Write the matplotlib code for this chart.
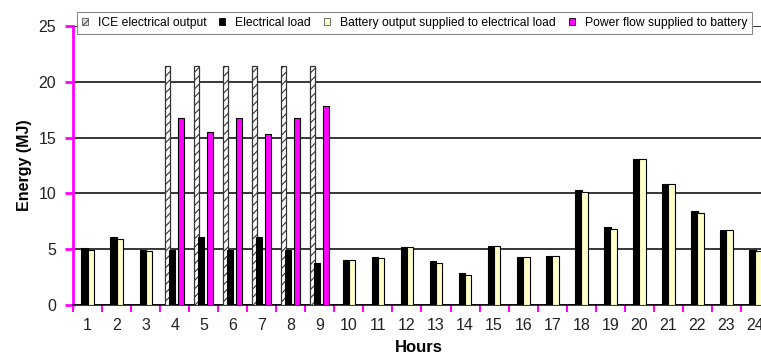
import numpy as np
import matplotlib.pyplot as plt
from matplotlib.patches import Patch

plt.rcParams['font.family'] = ['Liberation Sans', 'DejaVu Sans']
plt.rcParams['hatch.linewidth'] = 0.8

hours = [str(h) for h in range(1, 25)]
# electrical load for every hour
load = [5.1, 6.1, 4.9, 4.9, 6.1, 4.9, 6.1, 4.9, 3.8, 4.0, 4.3, 5.2,
        3.9, 2.9, 5.3, 4.3, 4.4, 10.3, 7.0, 13.1, 10.8, 8.4, 6.7, 4.9]
# battery output supplied to the load (0 while the ICE runs)
battery = [4.9, 5.9, 4.8, 0, 0, 0, 0, 0, 0, 4.0, 4.2, 5.2,
           3.8, 2.7, 5.3, 4.3, 4.4, 10.1, 6.8, 13.1, 10.8, 8.2, 6.7, 4.8]
# ICE electrical output, hours 4-9 only
ice = [0, 0, 0, 21.45, 21.45, 21.45, 21.45, 21.45, 21.45, 0, 0, 0,
       0, 0, 0, 0, 0, 0, 0, 0, 0, 0, 0, 0]
# power flow supplied to the battery, hours 4-9 only
charge = [0, 0, 0, 16.8, 15.5, 16.8, 15.3, 16.8, 17.8, 0, 0, 0,
          0, 0, 0, 0, 0, 0, 0, 0, 0, 0, 0, 0]

labels = ['ICE electrical output', 'Electrical load',
          'Battery output supplied to electrical load',
          'Power flow supplied to battery']

cream = '#FFFFC8'
magenta = '#FF00FF'

fig = plt.figure(figsize=(7.61, 3.6), dpi=100)
ax = fig.add_axes([73/761, 1 - 305/360, 697/761, 279/360])

x = np.arange(len(hours))
ice = np.array(ice)
charge = np.array(charge)
battery = np.array(battery)
on = ice > 0
bat_on = battery > 0

ax.bar(x[on] - 0.24, ice[on], width=0.17, color='white', edgecolor='#333333',
       hatch='////', linewidth=0.9, zorder=3)
ax.bar(x - 0.10, load, width=0.22, color='black', edgecolor='black',
       linewidth=0.8, zorder=3)
ax.bar(x[bat_on] + 0.11, battery[bat_on], width=0.22, color=cream,
       edgecolor='black', linewidth=0.8, zorder=4)
ax.bar(x[on] + 0.22, charge[on], width=0.2, color=magenta, edgecolor='black',
       linewidth=0.8, zorder=3)

ax.set_xlim(-0.5, len(hours) - 0.5)
ax.set_ylim(0, 25)
ax.set_yticks(range(0, 26, 5))
ax.yaxis.grid(True, color='black', linewidth=1.1)
ax.set_axisbelow(True)

ax.set_xticks(x)
ax.set_xticklabels(hours)
ax.set_xticks(np.arange(len(hours) + 1) - 0.5, minor=True)
ax.tick_params(axis='x', which='major', length=0, pad=9, labelsize=11.5,
               labelcolor='#222222')
ax.tick_params(axis='x', which='minor', length=5, width=1.5, color=magenta,
               direction='out')
ax.tick_params(axis='y', length=6, width=2, color=magenta, pad=6,
               labelsize=11.5, labelcolor='#222222')

for s in ['top', 'right']:
    ax.spines[s].set_visible(False)
ax.spines['left'].set_color(magenta)
ax.spines['left'].set_linewidth(2)
ax.spines['bottom'].set_color('black')
ax.spines['bottom'].set_linewidth(1.1)

ax.set_ylabel('Energy (MJ)', fontsize=11.5, fontweight='bold', labelpad=5)
ax.set_xlabel('Hours', fontsize=12, fontweight='bold')
ax.xaxis.set_label_coords((419 - 73) / 697, -0.125)

handles = [
    Patch(facecolor='#dddddd', edgecolor='#555555', hatch='////', linewidth=0.6),
    Patch(facecolor='black', edgecolor='black', linewidth=0.6),
    Patch(facecolor=cream, edgecolor='#555555', linewidth=0.6),
    Patch(facecolor=magenta, edgecolor='black', linewidth=0.6),
]
leg = fig.legend(handles, labels, ncol=4, loc='upper left',
                 bbox_to_anchor=(77/761, 1 - 12/360), fontsize=8.7,
                 handlelength=0.5, handleheight=0.5, handletextpad=0.8,
                 columnspacing=1.1, borderpad=0.4, fancybox=False,
                 framealpha=1, edgecolor='#888888', borderaxespad=0)
leg.get_frame().set_linewidth(0.8)
leg.set_zorder(10)

fig.savefig('out.png', dpi=100)
